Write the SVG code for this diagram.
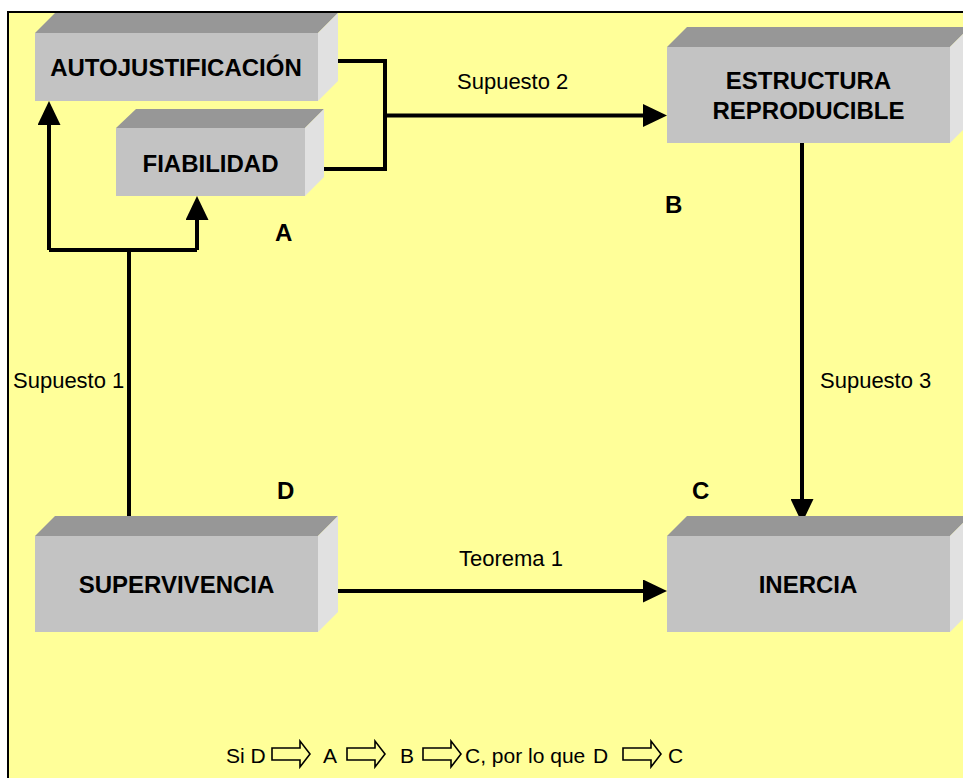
<svg xmlns="http://www.w3.org/2000/svg" width="963" height="778" viewBox="0 0 963 778">
  <defs>
    <style>
      .front { fill: #C3C3C3; }
      .top { fill: #979797; }
      .side { fill: #E1E1E1; }
      .title { font-family: "Liberation Sans", Arial, sans-serif; font-weight: bold; font-size: 24px; fill: #000; text-anchor: middle; }
      .tag { font-family: "Liberation Sans", Arial, sans-serif; font-weight: bold; font-size: 24px; fill: #000; }
      .label { font-family: "Liberation Sans", Arial, sans-serif; font-size: 22px; fill: #000; }
      .note { font-family: "Liberation Sans", Arial, sans-serif; font-size: 21px; fill: #000; }
      .wire { fill: none; stroke: #000; stroke-width: 4; stroke-linejoin: miter; }
      .hollow { fill: none; stroke: #000; stroke-width: 1.6; stroke-linejoin: miter; }
    </style>
    <marker id="head" markerUnits="userSpaceOnUse" markerWidth="24" markerHeight="23" refX="12" refY="11.5" orient="auto">
      <path d="M0,0 L24,11.5 L0,23 Z" fill="#000"/>
    </marker>
  </defs>

  <!-- page and frame -->
  <rect x="0" y="0" width="963" height="778" fill="#FFFFFF"/>
  <rect x="8" y="12" width="980" height="800" fill="#FFFF99" stroke="#000" stroke-width="2"/>

  <!-- connectors -->
  <g id="connectors">
    <path class="wire" d="M331,61 H385 V169 H318"/>
    <path class="wire" d="M385,115.5 H655" marker-end="url(#head)"/>
    <path class="wire" d="M129,521 V250"/>
    <path class="wire" d="M49,250 H197"/>
    <path class="wire" d="M49,250 V113" marker-end="url(#head)"/>
    <path class="wire" d="M197,250 V208" marker-end="url(#head)"/>
    <path class="wire" d="M802,143 V511" marker-end="url(#head)"/>
    <path class="wire" d="M331,591 H655" marker-end="url(#head)"/>
  </g>

  <!-- blocks -->
  <g id="autojustificacion">
    <polygon class="top" points="35,33 55,13 338,13 318,33"/>
    <polygon class="side" points="318,33 338,13 338,81 318,101"/>
    <rect class="front" x="35" y="33" width="283" height="68"/>
    <text class="title" x="176" y="76">AUTOJUSTIFICACIÓN</text>
  </g>

  <g id="fiabilidad">
    <polygon class="top" points="116,128 136,109 324,109 305,128"/>
    <polygon class="side" points="305,128 324,109 324,177 305,196"/>
    <rect class="front" x="116" y="128" width="189" height="68"/>
    <text class="title" x="210.5" y="172">FIABILIDAD</text>
  </g>

  <g id="estructura">
    <polygon class="top" points="667,47 687,27 970,27 950,47"/>
    <polygon class="side" points="950,47 970,27 970,123 950,143"/>
    <rect class="front" x="667" y="47" width="283" height="96"/>
    <text class="title" x="808.5" y="89">ESTRUCTURA</text>
    <text class="title" x="808.5" y="119">REPRODUCIBLE</text>
  </g>

  <g id="supervivencia">
    <polygon class="top" points="35,536 55,516 338,516 318,536"/>
    <polygon class="side" points="318,536 338,516 338,612 318,632"/>
    <rect class="front" x="35" y="536" width="283" height="96"/>
    <text class="title" x="176.5" y="593">SUPERVIVENCIA</text>
  </g>

  <g id="inercia">
    <polygon class="top" points="667,536 687,516 970,516 950,536"/>
    <polygon class="side" points="950,536 970,516 970,612 950,632"/>
    <rect class="front" x="667" y="536" width="283" height="96"/>
    <text class="title" x="808" y="593">INERCIA</text>
  </g>

  <!-- connector labels -->
  <g id="labels">
    <text class="label" x="457" y="89">Supuesto 2</text>
    <text class="label" x="13" y="388">Supuesto 1</text>
    <text class="label" x="820" y="388">Supuesto 3</text>
    <text class="label" x="459" y="566">Teorema 1</text>
  </g>

  <!-- stage letters -->
  <g id="stages">
    <text class="tag" x="275" y="241">A</text>
    <text class="tag" x="665" y="213">B</text>
    <text class="tag" x="692" y="499">C</text>
    <text class="tag" x="277" y="499">D</text>
  </g>

  <!-- implication chain -->
  <g id="chain">
    <text class="note" x="226" y="763">Si D</text>
    <path class="hollow" d="M272,748 H300 V741 L310,754 L300,767 V760 H272 Z"/>
    <text class="note" x="323" y="763">A</text>
    <path class="hollow" d="M347,748 H375 V741 L385,754 L375,767 V760 H347 Z"/>
    <text class="note" x="400" y="763">B</text>
    <path class="hollow" d="M423,748 H451 V741 L461,754 L451,767 V760 H423 Z"/>
    <text class="note" x="465" y="763">C, por lo que</text>
    <text class="note" x="593" y="763">D</text>
    <path class="hollow" d="M623,748 H651 V741 L661,754 L651,767 V760 H623 Z"/>
    <text class="note" x="668" y="763">C</text>
  </g>
</svg>
